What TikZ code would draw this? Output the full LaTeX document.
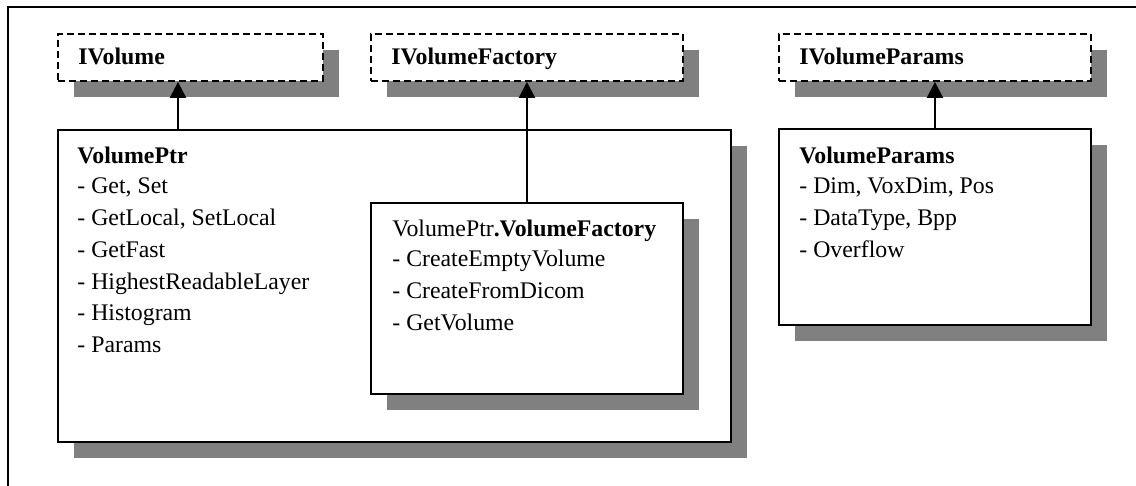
\documentclass[tikz,border=0pt]{standalone}
\usepackage{fontspec}
\setmainfont{Liberation Serif}
\usetikzlibrary{arrows.meta,shadows}

\begin{document}
\begin{tikzpicture}[x=0.5pt,y=-0.5pt,
  shade/.style={drop shadow={shadow xshift=8.2pt,shadow yshift=-8.2pt,fill=black!50,opacity=1}},
  classbox/.style={draw=black,line width=0.95pt,fill=white,inner sep=0pt,anchor=north west,shade},
  ifacebox/.style={classbox,dash pattern=on 3.5pt off 2pt},
  ifacelabel/.style={anchor=base west,inner sep=0pt,font=\fontsize{11.9pt}{16pt}\selectfont\bfseries},
  members/.style={anchor=north west,inner sep=0pt,align=left,font=\fontsize{11.9pt}{15.9pt}\selectfont},
  arr/.style={line width=1.1pt,-{Triangle[width=8pt,length=8pt]}}]
\useasboundingbox (0,0) rectangle (1136,486);

% frame of the whole figure (only its top and left edges fall inside)
\draw[line width=0.8pt] (8,520) -- (8,7) -- (1160,7);

% interfaces
\node[ifacebox,minimum width=132.5pt,minimum height=23.5pt] (ivol) at (57,33) {};
\node[ifacelabel] (ivoltxt) at (78,65) {IVolume};
\node[ifacebox,minimum width=156pt,minimum height=23.5pt] (ivf) at (370,33) {};
\node[ifacelabel] (ivftxt) at (391,65) {IVolumeFactory};
\node[ifacebox,minimum width=156pt,minimum height=23.5pt] (ivp) at (778,33) {};
\node[ifacelabel] (ivptxt) at (799,65) {IVolumeParams};

% VolumePtr class
\node[classbox,minimum width=336.5pt,minimum height=156pt] (vptr) at (57,129) {};
\node[members] (vptrtxt) at (77,146) {\rule{0pt}{8.5pt}\textbf{VolumePtr}\\[-0.7pt]
  - Get, Set\\- GetLocal, SetLocal\\- GetFast\\- HighestReadableLayer\\- Histogram\\- Params};

% nested factory class
\node[classbox,minimum width=156pt,minimum height=95.5pt] (vf) at (370,202) {};
\node[members] (vftxt) at (392,219) {\rule{0pt}{8.5pt}VolumePtr\textbf{.VolumeFactory}\\[-0.7pt]
  - CreateEmptyVolume\\- CreateFromDicom\\- GetVolume};

% VolumeParams class
\node[classbox,minimum width=156pt,minimum height=98pt] (vp) at (778,128) {};
\node[members] (vptxt) at (799,146) {\rule{0pt}{8.5pt}\textbf{VolumeParams}\\[-0.7pt]
  - Dim, VoxDim, Pos\\- DataType, Bpp\\- Overflow};

% realisation arrows
\coordinate (ivolx) at (178,0);
\draw[arr] (vptr.north -| ivolx) -- (ivol.south -| ivolx);
\draw[arr] (vf.north) -- (ivf.south);
\draw[arr] (vp.north) -- (ivp.south);
\end{tikzpicture}
\end{document}
